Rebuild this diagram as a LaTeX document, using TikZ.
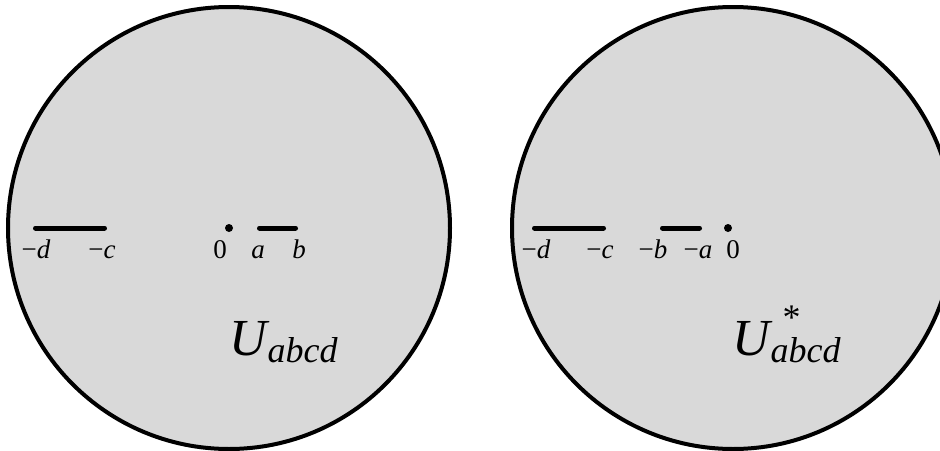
\documentclass[tikz,border=0pt]{standalone}
\usepackage{fontspec}
\setmainfont{Liberation Serif}[ItalicFont=Liberation Serif Italic]
\begin{document}
\begin{tikzpicture}[x=1pt,y=-1pt,
  disk/.style={draw=black,line width=4pt,fill=black!15},
  seg/.style={line width=5pt,line cap=round},
  lab/.style={anchor=base,inner sep=0pt,font=\fontsize{27}{27}\selectfont},
  big/.style={anchor=base west,inner sep=0pt,font=\fontsize{52}{52}\selectfont}]
\useasboundingbox (0,0) rectangle (940,450);
\begin{scope}
\clip (0,0) rectangle (940,450);
\draw[disk] (229,228) circle[radius=221];
\draw[disk] (733,228) circle[radius=221];
\end{scope}
% left disk
\coordinate (Ld) at (35.5,228); \coordinate (Lc) at (104.5,228);
\coordinate (La) at (259.5,228); \coordinate (Lb) at (295.5,228);
\draw[seg] (Ld) -- (Lc);
\draw[seg] (La) -- (Lb);
\fill (229,228) circle[radius=4];
\node[lab] (ld) at (36,258) {−\textit{d}};
\node[lab] (lc) at (102,258) {−\textit{c}};
\node[lab] (l0) at (220,258) {0};
\node[lab] (la) at (258,258) {\textit{a}};
\node[lab] (lb) at (299,258) {\textit{b}};
\node[big] (lU) at (229,355) {\textit{U}\kern-2pt\raisebox{-7pt}{\fontsize{36}{36}\selectfont\textit{abcd}}};
% right disk
\coordinate (Rd) at (534.5,228); \coordinate (Rc) at (603.5,228);
\coordinate (Rb) at (662.5,228); \coordinate (Ra) at (699.5,228);
\draw[seg] (Rd) -- (Rc);
\draw[seg] (Rb) -- (Ra);
\fill (728,228) circle[radius=4];
\node[lab] (rd) at (536,258) {−\textit{d}};
\node[lab] (rc) at (600,258) {−\textit{c}};
\node[lab] (rb) at (653,258) {−\textit{b}};
\node[lab] (ra) at (698,258) {−\textit{a}};
\node[lab] (r0) at (733,258) {0};
\node[big] (rU) at (732,355) {\textit{U}\kern-2pt\makebox[0pt][l]{\hspace{12pt}\raisebox{26pt}{\fontsize{36}{36}\selectfont *}}\raisebox{-7pt}{\fontsize{36}{36}\selectfont\textit{abcd}}};
\end{tikzpicture}
\end{document}
